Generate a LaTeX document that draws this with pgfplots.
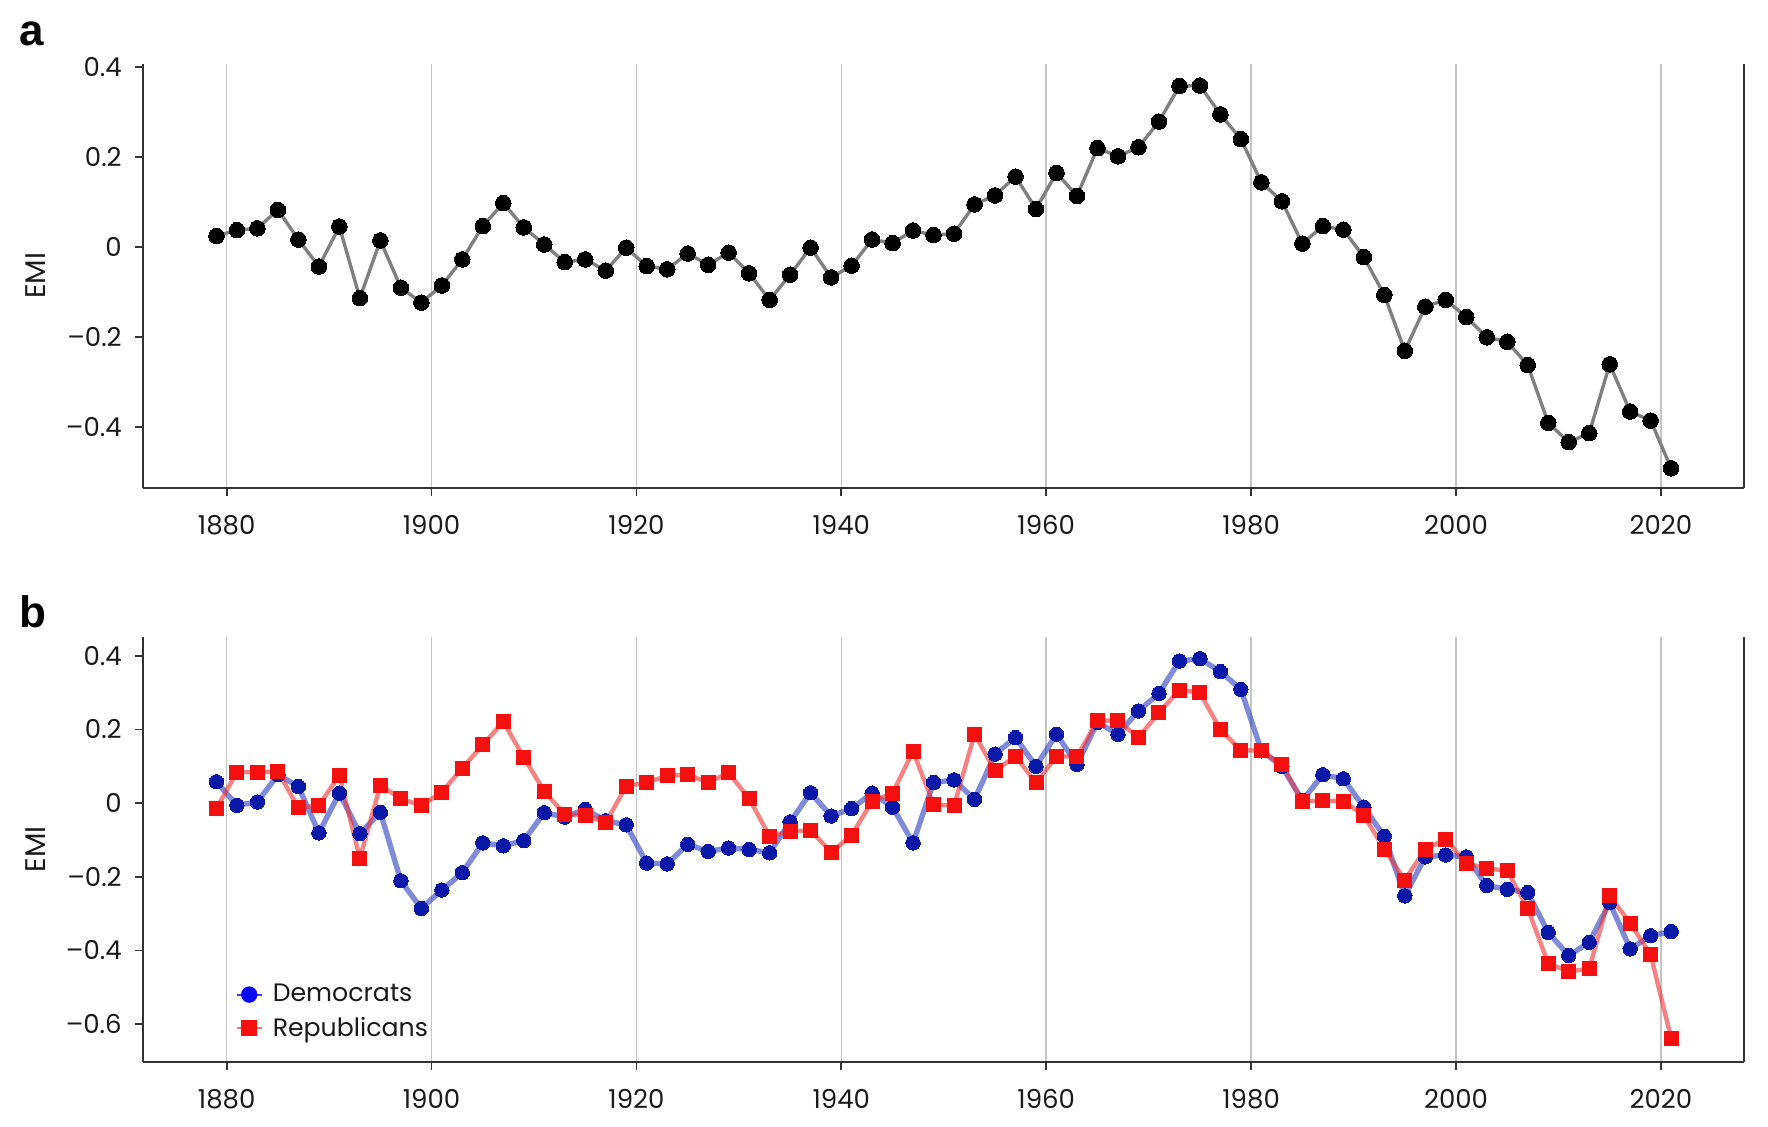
\documentclass[border=0pt]{standalone}
\usepackage{fontspec}
\setmainfont{Poppins}
\newfontfamily\labfont{Liberation Sans}
\usepackage{pgfplots}
\usepackage{pgfplotstable}
\pgfplotsset{compat=1.18}

\definecolor{spine}{HTML}{333333}
\definecolor{gridc}{HTML}{C4C4C4}
\definecolor{linegray}{HTML}{808080}
\definecolor{demblue}{HTML}{0A18A8}
\definecolor{demline}{HTML}{2A3CC0}
\definecolor{legblue}{HTML}{0A0AF0}
\definecolor{repred}{HTML}{F51010}
\definecolor{repline}{HTML}{F03030}
\definecolor{txt}{HTML}{1A1A1A}

\pgfplotstableread{
year emi
1879 0.024
1881 0.037
1883 0.041
1885 0.082
1887 0.016
1889 -0.044
1891 0.045
1893 -0.114
1895 0.014
1897 -0.091
1899 -0.124
1901 -0.086
1903 -0.028
1905 0.046
1907 0.097
1909 0.043
1911 0.005
1913 -0.034
1915 -0.028
1917 -0.053
1919 -0.002
1921 -0.043
1923 -0.050
1925 -0.015
1927 -0.040
1929 -0.013
1931 -0.059
1933 -0.118
1935 -0.062
1937 -0.002
1939 -0.068
1941 -0.042
1943 0.016
1945 0.008
1947 0.036
1949 0.026
1951 0.029
1953 0.094
1955 0.114
1957 0.156
1959 0.084
1961 0.164
1963 0.113
1965 0.219
1967 0.201
1969 0.221
1971 0.278
1973 0.357
1975 0.358
1977 0.294
1979 0.239
1981 0.143
1983 0.101
1985 0.007
1987 0.046
1989 0.038
1991 -0.023
1993 -0.107
1995 -0.231
1997 -0.133
1999 -0.118
2001 -0.156
2003 -0.201
2005 -0.211
2007 -0.263
2009 -0.391
2011 -0.434
2013 -0.414
2015 -0.261
2017 -0.366
2019 -0.386
2021 -0.492
}\tableall

\pgfplotstableread{
year dem rep
1879 0.058 -0.014
1881 -0.006 0.084
1883 0.003 0.084
1885 0.077 0.086
1887 0.045 -0.013
1889 -0.081 -0.006
1891 0.027 0.075
1893 -0.083 -0.150
1895 -0.025 0.048
1897 -0.211 0.012
1899 -0.286 -0.007
1901 -0.236 0.030
1903 -0.189 0.095
1905 -0.108 0.158
1907 -0.116 0.221
1909 -0.102 0.124
1911 -0.026 0.032
1913 -0.038 -0.031
1915 -0.017 -0.033
1917 -0.048 -0.053
1919 -0.059 0.046
1921 -0.163 0.056
1923 -0.165 0.074
1925 -0.112 0.077
1927 -0.131 0.056
1929 -0.122 0.082
1931 -0.126 0.012
1933 -0.135 -0.090
1935 -0.051 -0.077
1937 0.028 -0.074
1939 -0.035 -0.134
1941 -0.015 -0.087
1943 0.027 0.005
1945 -0.011 0.027
1947 -0.108 0.141
1949 0.056 -0.004
1951 0.063 -0.007
1953 0.010 0.187
1955 0.133 0.088
1957 0.178 0.127
1959 0.100 0.055
1961 0.187 0.127
1963 0.105 0.126
1965 0.219 0.225
1967 0.187 0.223
1969 0.250 0.178
1971 0.298 0.246
1973 0.386 0.307
1975 0.392 0.300
1977 0.357 0.199
1979 0.309 0.144
1981 0.142 0.142
1983 0.100 0.105
1985 0.007 0.005
1987 0.077 0.007
1989 0.066 0.005
1991 -0.011 -0.033
1993 -0.090 -0.125
1995 -0.252 -0.209
1997 -0.146 -0.125
1999 -0.141 -0.098
2001 -0.146 -0.164
2003 -0.224 -0.177
2005 -0.234 -0.184
2007 -0.243 -0.286
2009 -0.351 -0.436
2011 -0.414 -0.457
2013 -0.378 -0.450
2015 -0.270 -0.252
2017 -0.396 -0.326
2019 -0.360 -0.412
2021 -0.349 -0.639
}\tableparty

\pgfplotsset{
  emistyle/.style={
    scale only axis,
    width=800.5pt,
    height=212.3pt,
    xmin=1871.86, xmax=2028.14,
    axis x line*=bottom,
    axis y line*=left,
    axis line style={spine, line width=1pt},
    xtick={1880,1900,1920,1940,1960,1980,2000,2020},
    xticklabels={1880,1900,1920,1940,1960,1980,2000,2020},
    xmajorgrids,
    grid style={gridc, line width=0.8pt},
    tick align=outside,
    major tick length=4pt,
    tick style={spine, line width=0.9pt},
    ticklabel style={font=\fontsize{13}{13.5}\selectfont, text=txt},
    yticklabel style={anchor=east, inner sep=0pt, xshift=-6.6pt},
    xticklabel style={anchor=north, inner sep=0pt, yshift=-9.6pt},
    ylabel={EMI},
    ylabel style={at={(axis description cs:-0.067,0.5)}, anchor=center, rotate=0, font=\fontsize{14.2}{15}\selectfont, text=txt},
    clip=false,
  }
}

\begin{document}
\begin{tikzpicture}
\path[use as bounding box] (0pt,0pt) rectangle (884pt,-563pt);

\node[anchor=base west, inner sep=0pt, text=black] at (9.6pt,-22.5pt) {\labfont\fontsize{22}{22}\selectfont\bfseries a};
\node[anchor=base west, inner sep=0pt, text=black] at (9.6pt,-313.6pt) {\labfont\fontsize{22}{22}\selectfont\bfseries b};

\begin{axis}[emistyle,
  at={(71.65pt,-31.75pt)}, anchor=north west,
  ymin=-0.536, ymax=0.407,
  ytick={-0.4,-0.2,0,0.2,0.4},
  yticklabels={–0.4,–0.2,0,0.2,0.4},
]
\draw[spine, line width=1pt] (rel axis cs:1,0) -- (rel axis cs:1,1);
\addplot[linegray, line width=1.7pt, mark=*, mark size=3.9pt,
  mark options={fill=black, draw=black, line width=0pt}] table[x=year, y=emi] {\tableall};
\end{axis}

\begin{axis}[emistyle,
  at={(71.65pt,-318.5pt)}, anchor=north west,
  ymin=-0.702, ymax=0.451,
  ytick={-0.6,-0.4,-0.2,0,0.2,0.4},
  yticklabels={–0.6,–0.4,–0.2,0,0.2,0.4},
  legend cell align=left,
  legend image code/.code={\draw[#1, mark repeat=2, mark phase=2] plot coordinates {(0pt,0pt) (6.25pt,0pt) (12.5pt,0pt)};},
  legend style={at={(axis description cs:0.0575,0.183)}, anchor=north west, draw=none, fill=none,
    font=\fontsize{12.6}{13}\selectfont, inner sep=0pt, row sep=6pt,
    nodes={inner sep=0pt, text=txt},
    /tikz/every odd column/.append style={column sep=5pt}},
]
\draw[spine, line width=1pt] (rel axis cs:1,0) -- (rel axis cs:1,1);
\addplot[forget plot, demline, draw opacity=0.6, line width=2.7pt, mark=*, mark size=3.6pt,
  mark options={fill=demblue, draw=demblue, line width=0pt, opacity=1}] table[x=year, y=dem] {\tableparty};
\addplot[forget plot, repline, draw opacity=0.6, line width=2.2pt, mark=square*, mark size=3.5pt,
  mark options={fill=repred, draw=repred, line width=0pt, opacity=1}] table[x=year, y=rep] {\tableparty};
\addlegendimage{legblue, draw opacity=0.8, line width=1pt, mark=*, mark size=3.6pt, mark options={fill=legblue, draw=legblue, opacity=1}}
\addlegendentry{Democrats}
\addlegendimage{repred, draw opacity=0.6, line width=1pt, mark=square*, mark size=3.5pt, mark options={fill=repred, draw=repred, opacity=1}}
\addlegendentry{Republicans}
\end{axis}
\end{tikzpicture}
\end{document}
